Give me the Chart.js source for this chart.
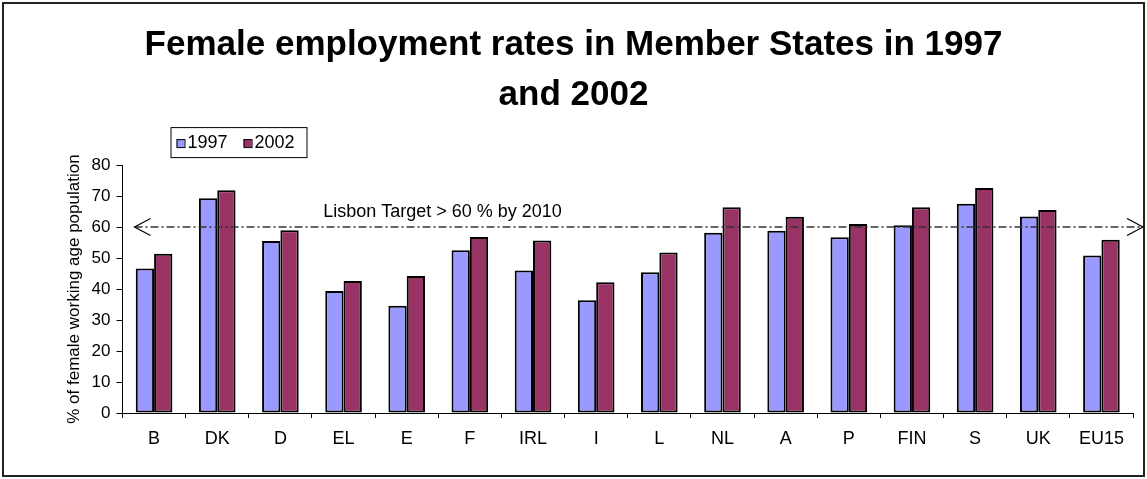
<!DOCTYPE html>
<html>
<head>
<meta charset="utf-8">
<title>Female employment rates</title>
<script src="https://cdn.jsdelivr.net/npm/chart.js@4/dist/chart.umd.min.js"></script>
<style>
  html, body { margin: 0; padding: 0; background: #fff; }
  #wrap { width: 1147px; height: 479px; }
</style>
</head>
<body>
<div id="wrap"><canvas id="employmentChart" width="1147" height="479"></canvas></div>
<script>
const categories = ['B', 'DK', 'D', 'EL', 'E', 'F', 'IRL', 'I', 'L', 'NL', 'A', 'P', 'FIN', 'S', 'UK', 'EU15'];
const rates1997 = [46.6, 69.3, 55.5, 39.4, 34.6, 52.5, 46.0, 36.4, 45.4, 58.2, 58.8, 56.7, 60.6, 67.5, 63.4, 50.8];
const rates2002 = [51.4, 71.9, 59.0, 42.6, 44.2, 56.8, 55.7, 42.2, 51.8, 66.4, 63.3, 61.0, 66.4, 72.6, 65.5, 55.9];
const lisbonTarget = 60;
const lisbonLabel = 'Lisbon Target > 60 % by 2010';

const FONT = "Arial, 'Liberation Sans', sans-serif";

// white page + thin frame round the whole chart
const framePlugin = {
    id: 'frame',
    beforeDraw(chart) {
        const c = chart.ctx;
        c.save();
        c.fillStyle = '#fff';
        c.fillRect(0, 0, chart.width, chart.height);
        c.strokeStyle = '#222';
        c.lineWidth = 2;
        c.strokeRect(3, 3, chart.width - 6, chart.height - 6);
        c.restore();
    }
};

// dash-dot target line with open arrow heads at both ends
const targetPlugin = {
    id: 'target',
    afterDatasetsDraw(chart) {
        const c = chart.ctx;
        const area = chart.chartArea;
        const y = chart.scales.y.getPixelForValue(lisbonTarget);
        const x0 = area.left + 12;
        const x1 = chart.width - 4;
        c.save();
        c.strokeStyle = '#333';
        c.lineWidth = 1.5;
        c.setLineDash([8, 3, 2, 3]);
        c.beginPath();
        c.moveTo(x0, y);
        c.lineTo(x1, y);
        c.stroke();
        c.setLineDash([]);
        c.strokeStyle = '#000';
        c.lineWidth = 1.2;
        c.beginPath();
        c.moveTo(x0 + 16, y - 8.5);
        c.lineTo(x0, y);
        c.lineTo(x0 + 16, y + 8.5);
        c.moveTo(x1 - 16, y - 8.5);
        c.lineTo(x1, y);
        c.lineTo(x1 - 16, y + 8.5);
        c.stroke();
        c.fillStyle = '#000';
        c.font = '18px ' + FONT;
        c.textAlign = 'center';
        c.textBaseline = 'alphabetic';
        c.fillText(lisbonLabel, area.left + 320, y - 10);
        c.restore();
    }
};

// boxed legend above the plot, left side
const boxLegendPlugin = {
    id: 'boxLegend',
    afterDraw(chart) {
        const c = chart.ctx;
        const area = chart.chartArea;
        const left = area.left + 48;
        const top = area.top - 38;
        c.save();
        c.strokeStyle = '#000';
        c.lineWidth = 1;
        c.strokeRect(left + 0.5, top + 0.5, 136, 30);
        c.font = '18px ' + FONT;
        c.textBaseline = 'middle';
        c.textAlign = 'left';
        let x = left + 6;
        chart.data.datasets.forEach(ds => {
            c.fillStyle = ds.backgroundColor;
            c.fillRect(x, top + 12, 8, 8);
            c.strokeRect(x + 0.5, top + 12.5, 8, 8);
            c.fillStyle = '#000';
            c.fillText(ds.label, x + 11, top + 16);
            x += 11 + c.measureText(ds.label).width + 16;
        });
        c.restore();
    }
};

const ctx = document.getElementById('employmentChart').getContext('2d');

const employmentChart = new Chart(ctx, {
    type: 'bar',
    data: {
        labels: categories,
        datasets: [{
            label: '1997',
            data: rates1997,
            backgroundColor: '#9999FF',
            borderColor: '#000',
            borderWidth: 2,
            borderSkipped: false
        }, {
            label: '2002',
            data: rates2002,
            backgroundColor: '#993366',
            borderColor: '#000',
            borderWidth: 2,
            borderSkipped: false
        }]
    },
    options: {
        responsive: false,
        animation: false,
        devicePixelRatio: 1,
        categoryPercentage: 0.58,
        barPercentage: 1,
        layout: {
            padding: { left: 14, right: 14, top: 0, bottom: 10 }
        },
        plugins: {
            legend: { display: false },
            tooltip: { enabled: false },
            title: {
                display: true,
                text: ['Female employment rates in Member States in 1997', 'and 2002'],
                color: '#000',
                font: { family: FONT, size: 35, weight: 'bold', lineHeight: 1.43 },
                padding: { top: 20, bottom: 45 }
            }
        },
        scales: {
            x: {
                offset: true,
                border: { color: '#000', width: 1 },
                grid: { display: true, drawOnChartArea: false, color: '#000', tickLength: 5, offset: true },
                ticks: { color: '#000', font: { family: FONT, size: 18 }, padding: 10, maxRotation: 0 },
                afterFit(scale) { scale.height = 56; }
            },
            y: {
                min: 0,
                max: 80,
                border: { color: '#000', width: 1 },
                grid: { drawOnChartArea: false, color: '#000', tickLength: 6 },
                ticks: { stepSize: 10, color: '#000', font: { family: FONT, size: 17 }, padding: 6 },
                title: {
                    display: true,
                    text: '% of female working age population',
                    color: '#000',
                    font: { family: FONT, size: 17 },
                    padding: { top: 50, bottom: 4 }
                },
                afterFit(scale) { scale.width = 108.5; }
            }
        }
    },
    plugins: [framePlugin, targetPlugin, boxLegendPlugin]
});
</script>
</body>
</html>
